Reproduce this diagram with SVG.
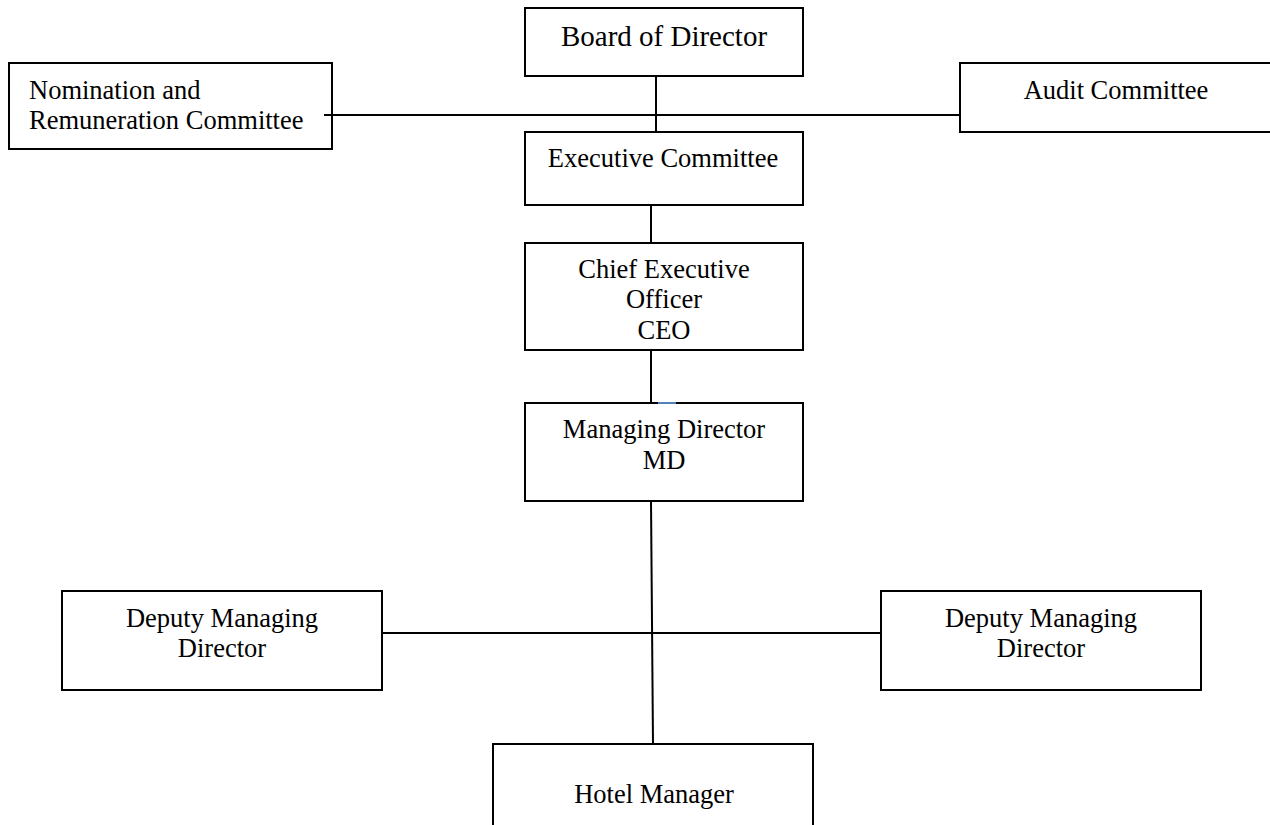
<svg xmlns="http://www.w3.org/2000/svg" width="1270" height="825" viewBox="0 0 1270 825">
<style>
.box{fill:#fff;stroke:#000;stroke-width:2}
.t{font-family:"Liberation Serif","Times New Roman",serif;font-size:26.5px;fill:#000}
.c{text-anchor:middle}
.ln{stroke:#000;stroke-width:2;fill:none}
</style>
<rect width="1270" height="825" fill="#fff"/>
<g id="board">
<rect class="box" x="525" y="8" width="278" height="68"/>
<text class="t c" x="664" y="46" style="font-size:29px">Board of Director</text>
</g>
<g id="nomination">
<rect class="box" x="9" y="63" width="323" height="86"/>
<text class="t" x="29" y="99">Nomination and</text>
<text class="t" x="29" y="129">Remuneration Committee</text>
</g>
<g id="audit">
<rect class="box" x="960" y="63" width="312" height="69"/>
<text class="t c" x="1116" y="99">Audit Committee</text>
</g>
<g id="executive">
<rect class="box" x="525" y="132" width="278" height="73"/>
<text class="t c" x="663" y="167">Executive Committee</text>
</g>
<g id="ceo">
<rect class="box" x="525" y="243" width="278" height="107"/>
<text class="t c" x="664" y="278">Chief Executive</text>
<text class="t c" x="664" y="308">Officer</text>
<text class="t c" x="664" y="339">CEO</text>
</g>
<g id="md">
<rect class="box" x="525" y="403" width="278" height="98"/>
<text class="t c" x="664" y="438">Managing Director</text>
<text class="t c" x="664" y="469">MD</text>
</g>
<g id="dmd-left">
<rect class="box" x="62" y="591" width="320" height="99"/>
<text class="t c" x="222" y="627">Deputy Managing</text>
<text class="t c" x="222" y="657">Director</text>
</g>
<g id="dmd-right">
<rect class="box" x="881" y="591" width="320" height="99"/>
<text class="t c" x="1041" y="627">Deputy Managing</text>
<text class="t c" x="1041" y="657">Director</text>
</g>
<g id="hotel">
<rect class="box" x="493" y="744" width="320" height="90"/>
<text class="t c" x="654" y="803">Hotel Manager</text>
</g>
<g id="connectors">
<line class="ln" x1="324" y1="115" x2="960" y2="115"/>
<line class="ln" x1="656" y1="76" x2="656" y2="132"/>
<line class="ln" x1="651" y1="205" x2="651" y2="243"/>
<line class="ln" x1="651" y1="350" x2="651" y2="403"/>
<line x1="658" y1="403" x2="676" y2="403" stroke="#4f81bd" stroke-width="2"/>
<line class="ln" x1="651" y1="501" x2="653" y2="744"/>
<line class="ln" x1="382" y1="633" x2="881" y2="633"/>
</g>
</svg>
